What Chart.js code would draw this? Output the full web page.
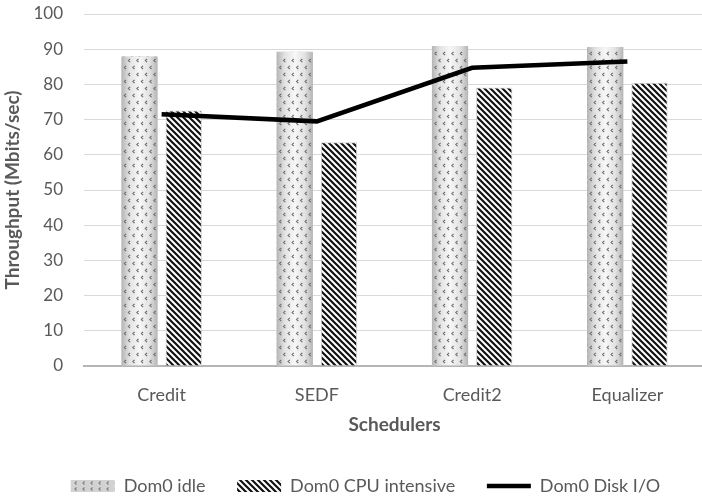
<!DOCTYPE html>
<html>
<head>
<meta charset="utf-8">
<script src="https://cdn.jsdelivr.net/npm/chart.js@4"></script>
<style>
  html, body { margin: 0; padding: 0; background: #ffffff; overflow: hidden; }
  #wrap { width: 702px; height: 496px; overflow: hidden; }
  canvas { display: block; }
</style>
</head>
<body>
<div id="wrap"><canvas id="chart" width="705" height="496"></canvas></div>
<script>
// Scheduler throughput under three Dom0 workloads
const categories = ['Credit', 'SEDF', 'Credit2', 'Equalizer'];
const dom0Idle = [87.9, 89.3, 90.9, 90.6];
const dom0CpuIntensive = [72.6, 63.6, 79.1, 80.5];
const dom0DiskIO = [71.5, 69.5, 84.7, 86.5];
const yTicks = [0, 10, 20, 30, 40, 50, 60, 70, 80, 90, 100];

const TEXT = '#595959';
const FONT = 'Lato';

// Diagonal hatch used for the CPU-intensive bars
function makeStripePattern() {
  const c = document.createElement('canvas');
  c.width = 6; c.height = 6;
  const g = c.getContext('2d');
  g.fillStyle = '#ffffff';
  g.fillRect(0, 0, 6, 6);
  g.strokeStyle = '#111111';
  g.lineWidth = 2.2;
  g.beginPath();
  g.moveTo(-1, -1); g.lineTo(7, 7);
  g.moveTo(-1, 5); g.lineTo(1, 7);
  g.moveTo(5, -1); g.lineTo(7, 1);
  g.stroke();
  return g.createPattern(c, 'repeat');
}

// Small chevron marks on grey, used for the idle legend swatch
function makeChevronPattern() {
  const c = document.createElement('canvas');
  c.width = 8; c.height = 6;
  const g = c.getContext('2d');
  g.fillStyle = '#d2d2d2';
  g.fillRect(0, 0, 8, 6);
  g.strokeStyle = '#7a7a7a';
  g.lineWidth = 1.1;
  g.beginPath();
  g.moveTo(4.5, 1.5); g.lineTo(3, 3); g.lineTo(4.5, 4.5);
  g.stroke();
  return g.createPattern(c, 'repeat');
}

const stripePattern = makeStripePattern();
const chevronPattern = makeChevronPattern();

// Shaded, chevron-dotted fill for the idle bars
const idleBarFill = {
  id: 'idleBarFill',
  afterDatasetDraw(chart, args) {
    if (args.index !== 0) return;
    const ctx = chart.ctx;
    args.meta.data.forEach(el => {
      const p = el.getProps(['x', 'y', 'base', 'width'], true);
      const left = p.x - p.width / 2, right = p.x + p.width / 2;
      const top = Math.min(p.y, p.base), bottom = Math.max(p.y, p.base);
      ctx.save();
      ctx.beginPath();
      ctx.rect(left, top, p.width, bottom - top);
      ctx.clip();
      const grad = ctx.createLinearGradient(left, 0, right, 0);
      grad.addColorStop(0, '#b4b4b4');
      grad.addColorStop(0.22, '#e2e2e2');
      grad.addColorStop(0.5, '#f7f7f7');
      grad.addColorStop(0.78, '#e2e2e2');
      grad.addColorStop(1, '#b4b4b4');
      ctx.fillStyle = grad;
      ctx.fillRect(left, top, p.width, bottom - top);
      ctx.strokeStyle = '#6f6f6f';
      ctx.lineWidth = 1.2;
      ctx.beginPath();
      for (let r = 0; ; r++) {
        const yy = bottom - 4 - r * 7;
        if (yy < top + 2) break;
        const xoff = (r % 2) * 4;
        for (let cx = left + 3 + xoff; cx < right - 2; cx += 8.5) {
          ctx.moveTo(cx + 1.7, yy - 1.7);
          ctx.lineTo(cx, yy);
          ctx.lineTo(cx + 1.7, yy + 1.7);
        }
      }
      ctx.stroke();
      ctx.restore();
    });
  }
};

// Nudges the legend row to sit low and slightly right of centre
const legendOffset = {
  id: 'legendOffset',
  afterLayout(chart) {
    const lg = chart.legend;
    if (!lg) return;
    lg.left += 13; lg.right += 13;
    lg.top += 9; lg.bottom += 9;
  }
};

new Chart(document.getElementById('chart'), {
  type: 'bar',
  data: {
    labels: categories,
    datasets: [
      {
        label: 'Dom0 idle',
        data: dom0Idle,
        backgroundColor: chevronPattern,
        borderWidth: 0,
        order: 2,
        categoryPercentage: 0.57,
        barPercentage: 0.82
      },
      {
        label: 'Dom0 CPU intensive',
        data: dom0CpuIntensive,
        backgroundColor: stripePattern,
        borderColor: '#cfcfcf',
        borderWidth: 1,
        order: 2,
        categoryPercentage: 0.57,
        barPercentage: 0.82
      },
      {
        type: 'line',
        label: 'Dom0 Disk I/O',
        data: dom0DiskIO,
        borderColor: '#000000',
        backgroundColor: '#000000',
        borderWidth: 4.5,
        pointRadius: 0,
        tension: 0,
        fill: false,
        order: 0
      }
    ]
  },
  options: {
    responsive: false,
    animation: false,
    devicePixelRatio: 1,
    layout: { padding: { top: 14, left: 0, right: 0, bottom: 0 } },
    plugins: {
      tooltip: { enabled: false },
      legend: {
        position: 'bottom',
        labels: {
          font: { family: FONT, size: 18 },
          color: TEXT,
          padding: 31.6,
          usePointStyle: true,
          pointStyleWidth: 44,
          boxHeight: 12,
          generateLabels(chart) {
            return chart.data.datasets.map((ds, i) => ({
              text: ds.label,
              datasetIndex: i,
              fontColor: TEXT,
              fillStyle: ds.type === 'line' ? '#000000' : ds.backgroundColor,
              strokeStyle: '#000000',
              lineWidth: ds.type === 'line' ? 4.5 : 0,
              pointStyle: ds.type === 'line' ? 'line' : 'rect',
              hidden: false
            }));
          }
        }
      }
    },
    scales: {
      x: {
        afterFit(scale) { scale.height = 70.4; },
        grid: { display: false, drawTicks: false },
        border: { display: true, color: '#b5b5b5', width: 2 },
        ticks: { font: { family: FONT, size: 18 }, color: TEXT, padding: 18 },
        title: {
          display: true,
          text: 'Schedulers',
          font: { family: FONT, size: 19, weight: 'bold' },
          color: TEXT,
          padding: { top: 0, bottom: 0 }
        }
      },
      y: {
        min: 0,
        max: 100,
        afterBuildTicks(scale) {
          scale.ticks = yTicks.map(v => ({ value: v }));
        },
        afterFit(scale) {
          scale.width = 84;
          scale.paddingTop = 10;
          scale.paddingBottom = 10;
        },
        grid: { color: '#d9d9d9', lineWidth: 1, drawTicks: false },
        border: { display: false },
        ticks: { font: { family: FONT, size: 17 }, color: TEXT, padding: 21 },
        title: {
          display: true,
          text: 'Throughput (Mbits/sec)',
          font: { family: FONT, size: 19, weight: 'bold' },
          color: TEXT,
          padding: { top: 1, bottom: 0 }
        }
      }
    }
  },
  plugins: [idleBarFill, legendOffset]
});
</script>
</body>
</html>
